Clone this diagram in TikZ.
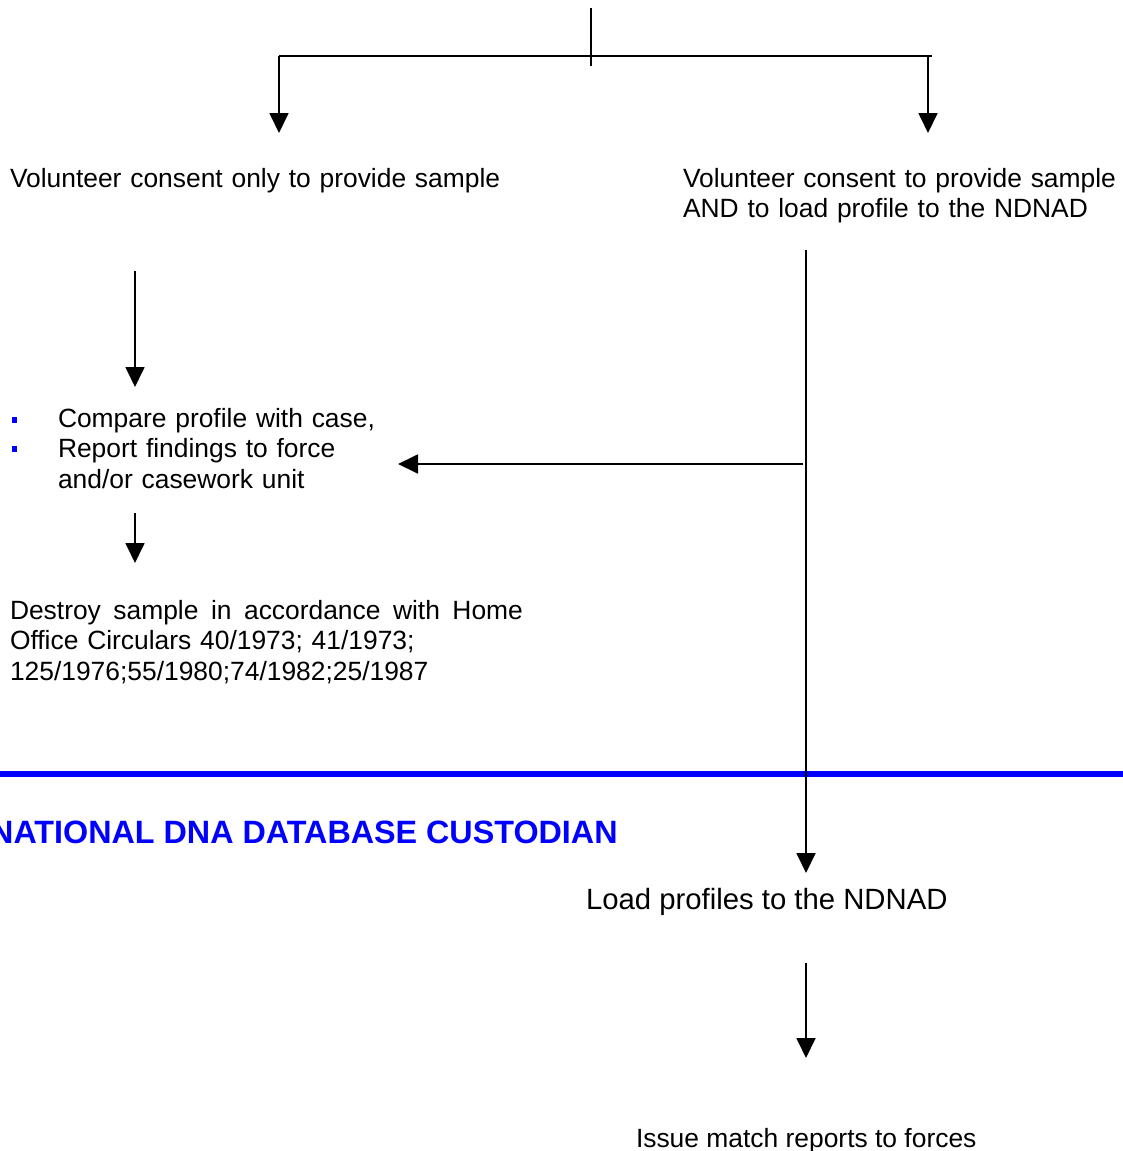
\documentclass[tikz,border=0pt]{standalone}
\usepackage{fontspec}
\setmainfont{Liberation Sans}
\usetikzlibrary{arrows.meta}
\definecolor{lineblue}{RGB}{0,0,255}
\begin{document}
\begin{tikzpicture}[x=1pt,y=-1pt,
  conn/.style={line width=1.8pt,line cap=butt},
  flow/.style={conn,-{Triangle[width=19pt,length=20pt]}},
  body/.style={anchor=base west,inner sep=0pt,outer sep=0pt,align=left,
    font=\fontsize{26.4}{30.5}\selectfont},
  bigbody/.style={body,font=\fontsize{29.3}{33}\selectfont},
  heading/.style={anchor=base west,inner sep=0pt,text=lineblue,
    font=\fontsize{32.3}{36}\selectfont\bfseries},
  bulletmark/.style={fill=lineblue,inner sep=0pt,minimum size=5.5pt,draw=none},
  divider/.style={draw=lineblue,line width=6pt}]
\useasboundingbox (0,0) rectangle (1123,1151);

% section divider (drawn first so the flow line crosses over it)
\draw[divider] (0,774) -- (1123,774);

% text blocks
\node[body,text width=500pt] (only) at (10,187) {Volunteer consent only to provide sample};
\node[body,text width=440pt] (both) at (683,187) {Volunteer consent to provide sample\\AND to load profile to the NDNAD};
\node[body,text width=340pt] (compare) at (58,427) {Compare profile with case,\\Report findings to force\\and/or casework unit};
\node[bulletmark] (b1) at (14.5,420) {};
\node[bulletmark] (b2) at (14.5,449) {};
\node[body,text width=520pt] (destroy) at (10,619)
  {\hbox to 513pt{Destroy\hfill sample\hfill in\hfill accordance\hfill with\hfill Home}\\
   Office Circulars 40/1973; 41/1973;\\
   125/1976;55/1980;74/1982;25/1987};
\node[heading] (custodian) at (-10,843) {NATIONAL DNA DATABASE CUSTODIAN};
\node[bigbody] (load) at (586,909) {Load profiles to the NDNAD};
\node[body] (issue) at (636,1147) {Issue match reports to forces};

% connector end points
\coordinate (top) at (591,8);
\coordinate (stub) at (591,66);
\coordinate (lcorner) at (279,56);
\coordinate (rcorner) at (928,56);
\coordinate (rend) at (932,56);
\coordinate (ltip) at (279,133);
\coordinate (rtip) at (928,133);
\coordinate (onlyout) at (135,271);
\coordinate (compin) at (135,387);
\coordinate (compout) at (135,513);
\coordinate (destin) at (135,563);
\coordinate (bothout) at (806,250);
\coordinate (loadin) at (806,873);
\coordinate (branch) at (803,464);
\coordinate (compside) at (398,464);
\coordinate (loadout) at (806,963);
\coordinate (issuein) at (806,1058);

% top split
\draw[conn] (top) -- (stub);
\draw[conn] (lcorner) -- (rend);
\draw[flow] (lcorner) -- (ltip);
\draw[flow] (rcorner) -- (rtip);

% left branch
\draw[flow] (onlyout) -- (compin);
\draw[flow] (compout) -- (destin);

% right branch
\draw[flow] (bothout) -- (loadin);
\draw[flow] (branch) -- (compside);
\draw[flow] (loadout) -- (issuein);
\end{tikzpicture}
\end{document}
